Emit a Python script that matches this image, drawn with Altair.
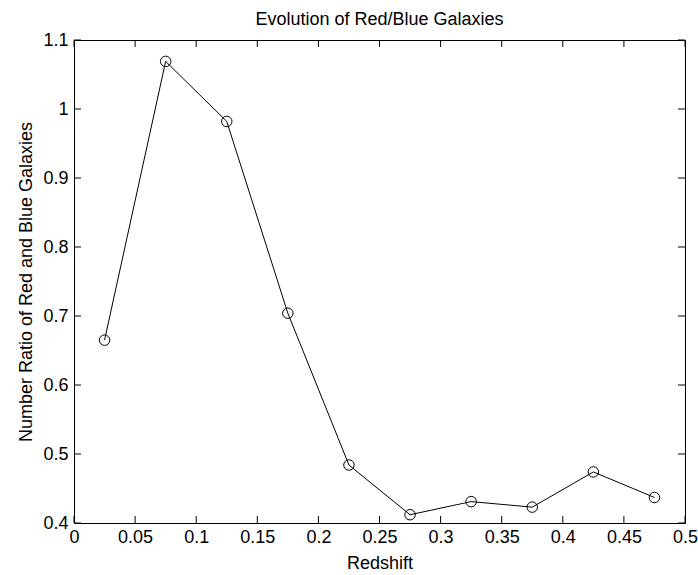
import altair as alt
import pandas as pd

# Redshift bin centres and the red/blue number ratio in each bin
redshift = [0.025, 0.075, 0.125, 0.175, 0.225, 0.275, 0.325, 0.375, 0.425, 0.475]
ratio = [0.665, 1.069, 0.982, 0.704, 0.484, 0.412, 0.431, 0.423, 0.474, 0.437]

x_ticks = [0, 0.05, 0.1, 0.15, 0.2, 0.25, 0.3, 0.35, 0.4, 0.45, 0.5]
y_ticks = [0.4, 0.5, 0.6, 0.7, 0.8, 0.9, 1.0, 1.1]
chart_title = ["Evolution of Red/Blue Galaxies"]

W, H = 611, 483
TICK = 7
FONT = "Liberation Sans"
FS = 18

df = pd.DataFrame({"z": redshift, "r": ratio})
xt = pd.DataFrame({"t": x_ticks})
yt = pd.DataFrame({"t": y_ticks})
tt = pd.DataFrame({"label": chart_title})

xscale = alt.Scale(domain=[0, 0.5], nice=False, zero=False)
yscale = alt.Scale(domain=[0.4, 1.1], nice=False, zero=False)

x_axis = alt.Axis(
    values=x_ticks, format="~g", grid=False, domain=False, ticks=False, tickSize=0,
    labelPadding=5, labelFont=FONT, labelFontSize=FS, labelColor="black",
    title="Redshift", titleFont=FONT, titleFontSize=FS, titleFontWeight="normal",
    titleColor="black", titleX=W / 2, titleY=45, titleBaseline="alphabetic",
    titleAlign="center", labelFlush=False, labelOverlap=False,
)
y_axis = alt.Axis(
    values=y_ticks, format="~g", grid=False, domain=False, ticks=False, tickSize=0,
    labelPadding=6, labelFont=FONT, labelFontSize=FS, labelColor="black",
    title="Number Ratio of Red and Blue Galaxies", titleFont=FONT, titleFontSize=FS,
    titleFontWeight="normal", titleColor="black", titleX=-43, titleY=H / 2,
    titleAngle=270, titleBaseline="alphabetic", titleAlign="center",
    labelFlush=False, labelOverlap=False,
)

X = alt.X("z:Q", scale=xscale, axis=x_axis)
Y = alt.Y("r:Q", scale=yscale, axis=y_axis)

line = alt.Chart(df).mark_line(color="black", strokeWidth=1).encode(x=X, y=Y)
points = alt.Chart(df).mark_point(
    shape="circle", filled=False, color="black", size=110, strokeWidth=1, opacity=1
).encode(x=X, y=Y)

# inward ticks on all four sides of the box
bottom_ticks = alt.Chart(xt).mark_rule(color="black", strokeWidth=1).encode(
    x=alt.X("t:Q", scale=xscale, axis=x_axis), y=alt.value(H), y2=alt.value(H - TICK)
)
top_ticks = alt.Chart(xt).mark_rule(color="black", strokeWidth=1).encode(
    x=alt.X("t:Q", scale=xscale, axis=x_axis), y=alt.value(0), y2=alt.value(TICK)
)
left_ticks = alt.Chart(yt).mark_rule(color="black", strokeWidth=1).encode(
    y=alt.Y("t:Q", scale=yscale, axis=y_axis), x=alt.value(0), x2=alt.value(TICK)
)
right_ticks = alt.Chart(yt).mark_rule(color="black", strokeWidth=1).encode(
    y=alt.Y("t:Q", scale=yscale, axis=y_axis), x=alt.value(W), x2=alt.value(W - TICK)
)

title = alt.Chart(tt).mark_text(
    font=FONT, fontSize=FS, color="black", align="center", baseline="alphabetic"
).encode(text="label:N", x=alt.value(W / 2), y=alt.value(-15))

chart = alt.layer(
    line, points, bottom_ticks, top_ticks, left_ticks, right_ticks, title
).properties(
    width=W,
    height=H,
    autosize=alt.AutoSizeParams(type="none"),
    padding={"left": 74, "top": 40, "right": 13, "bottom": 52},
    background="white",
).configure_view(stroke="black", strokeWidth=1)

chart.save("out.html", embed_options={"renderer": "svg", "actions": False})
